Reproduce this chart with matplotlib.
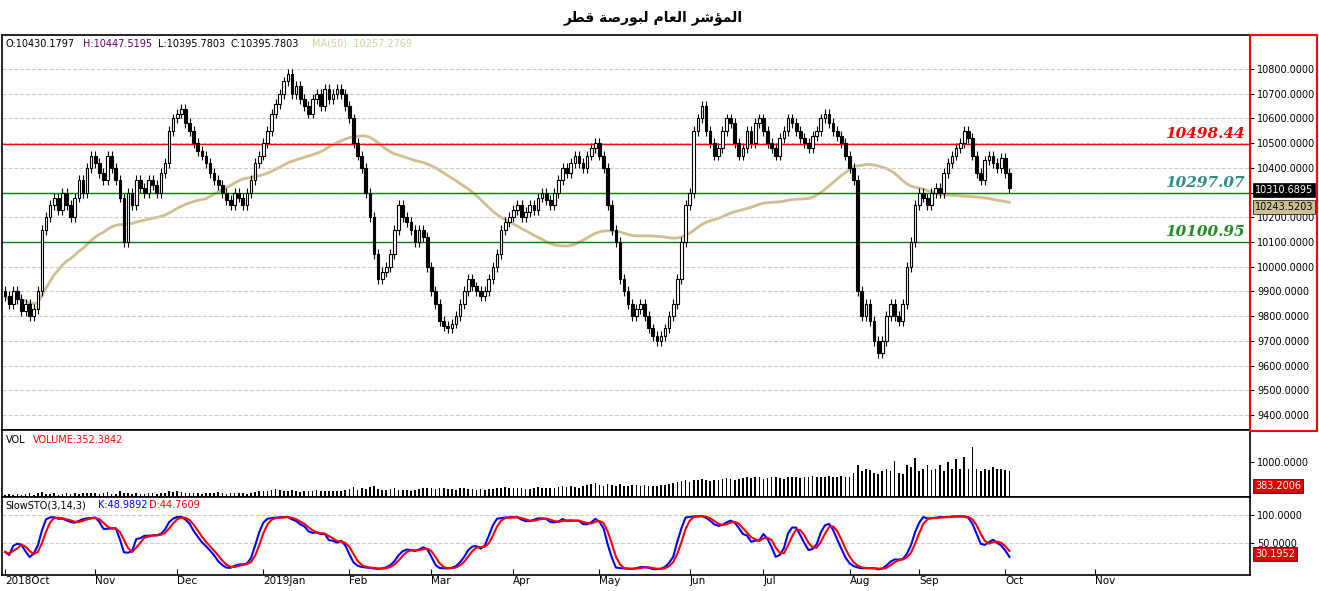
import numpy as np
import pandas as pd
import matplotlib
matplotlib.use("Agg")
import matplotlib.pyplot as plt
from matplotlib.patches import Rectangle

closes = [
 9880,9850,9900,9870,9820,9850,9800,9830,9900,10150,10200,10250,10280,10230,10300,10250,10200,10280,10350,10300,10400,10450,
 10420,10380,10350,10450,10400,10350,10280,10100,10300,10250,10350,10320,10300,10350,10330,10300,10380,10420,10550,10600,
 10620,10640,10580,10550,10500,10470,10450,10420,10380,10350,10330,10300,10270,10250,10300,10280,10250,10300,10350,10420,10450,
 10500,10550,10620,10660,10700,10750,10780,10700,10730,10680,10650,10620,10680,10700,10650,10720,10680,10700,10720,10700,10650,
 10600,10500,10450,10400,10300,10200,10050,9950,9980,10000,10050,10150,10250,10200,10180,10150,10100,10150,10120,10000,
 9900,9850,9780,9760,9750,9770,9800,9850,9900,9950,9920,9900,9880,9900,9950,10000,10050,10150,10180,10200,
 10230,10250,10200,10220,10250,10230,10280,10300,10270,10250,10300,10350,10400,10380,10420,10450,10420,10400,10450,10480,10500,
 10450,10400,10250,10150,10100,9950,9900,9850,9800,9830,9850,9800,9750,9720,9700,9720,9750,9800,9850,9950,10100,10250,
 10300,10550,10600,10650,10550,10500,10450,10480,10550,10600,10580,10500,10450,10480,10550,10500,10580,10600,
 10550,10500,10480,10450,10520,10550,10600,10580,10550,10520,10500,10480,10530,10550,10600,10620,10580,10550,10530,10500,10450,
 10400,10350,9900,9800,9850,9780,9700,9650,9700,9800,9850,9800,9780,9850,10000,10100,10250,
 10300,10280,10250,10300,10320,10300,10380,10420,10450,10480,10500,10550,10520,10450,10380,10350,10430,10450,10420,10400,10440,
 10380,10320]
volumes = [
 160,170,150,180,160,170,190,160,200,230,180,170,190,160,180,200,170,190,180,200,190,210,
 190,180,200,230,180,170,260,190,200,180,190,170,180,190,200,180,190,210,250,220,
 240,220,200,210,190,200,180,210,190,200,220,190,180,200,210,190,200,180,210,230,240,
 260,250,280,300,270,260,250,280,240,230,260,250,240,270,250,260,240,250,260,240,280,
 300,350,280,320,300,350,380,300,280,270,300,320,290,280,270,260,280,300,320,330,
 330,300,340,320,310,300,290,320,330,300,310,280,300,290,310,300,320,330,350,340,
 330,320,340,300,310,320,350,330,340,320,330,360,380,350,370,360,340,380,400,420,450,
 400,380,420,400,380,420,390,380,400,410,380,400,380,370,390,400,410,430,450,470,500,520,
 480,520,540,560,520,500,520,540,560,580,560,540,560,580,600,580,620,600,
 560,580,600,620,580,560,600,620,600,580,600,620,640,620,600,620,640,600,620,640,600,
 620,700,900,760,820,780,700,680,750,820,760,1020,700,680,900,860,1080,
 760,800,900,780,820,900,760,1000,800,1060,800,1120,820,1360,800,750,800,780,850,820,800,
 780,760]
month_labels = ["2018Oct","Nov","Dec","2019Jan","Feb","Mar","Apr","May","Jun","Jul","Aug","Sep","Oct","Nov"]
month_starts = [0,22,42,63,84,104,124,145,167,185,206,223,244,266]
hlines = [10498.44, 10297.07, 10100.95]
hline_colors = ["#ff0000", "#008000", "#008000"]
hlabel_colors = ["#ff0000", "#2e8b8b", "#228b22"]

c = np.array(closes, float)
o = np.concatenate([[9900], c[:-1]])
hi = np.maximum(o, c) + 20
lo = np.minimum(o, c) - 20
n = len(c)
x = np.arange(n)
ma = pd.Series(c).rolling(50, min_periods=1).mean().values
ll = pd.Series(lo).rolling(14, min_periods=1).min()
hh = pd.Series(hi).rolling(14, min_periods=1).max()
fastk = 100*(pd.Series(c)-ll)/(hh-ll)
K = fastk.rolling(3, min_periods=1).mean()
D = K.rolling(3, min_periods=1).mean()

W, H = 1319, 591
FS = 7
fig = plt.figure(figsize=(W/100, H/100), dpi=100)
def ax_at(top, bot):
    return fig.add_axes([2/W, (H-bot)/H, 1248/W, (bot-top)/H])
ax = ax_at(35, 430); axv = ax_at(430, 497); axs = ax_at(497, 575)
xl = (-0.75, 303.7)
for a in (ax, axv, axs):
    a.set_xlim(*xl)
    a.yaxis.tick_right()
    a.tick_params(axis='y', labelsize=FS, length=3, pad=2)
    a.tick_params(axis='x', length=0)
    a.set_xticks([])
    for s in a.spines.values():
        s.set_linewidth(1.2)
ax.set_ylim(9339, 10938)
yt = np.arange(9400, 10801, 100)
ax.set_yticks(yt); ax.set_yticklabels([f"{v:.4f}" for v in yt])
ax.grid(axis='y', color='#cccccc', ls='--', lw=0.8)
up = c >= o
ax.vlines(x, lo, hi, color='black', lw=0.8, zorder=2)
ax.bar(x[up], (c-o)[up], bottom=o[up], width=0.65, color='white', edgecolor='black', lw=0.8, zorder=3)
ax.bar(x[~up], (c-o)[~up], bottom=o[~up], width=0.65, color='black', edgecolor='black', lw=0.8, zorder=3)
ax.plot(x, ma, color='#cdbf8f', lw=2, zorder=1)
for v, col, lc in zip(hlines, hline_colors, hlabel_colors):
    ax.axhline(v, color=col, lw=1)
    ax.text(302.5, v+12, f"{v:.2f}", color=lc, ha='right', va='bottom', fontsize=11,
            fontweight='bold', style='italic', family='DejaVu Serif')
hdr = [(0.003, "O:10430.1797", 'black'), (0.065, "H:10447.5195", '#660066'),
       (0.125, "L:10395.7803", 'black'), (0.183, "C:10395.7803", 'black'),
       (0.248, "MA(50)  10257.2769", '#d8cca0')]
for xf, s, col in hdr:
    ax.text(xf, 0.99, s, color=col, transform=ax.transAxes, fontsize=FS, va='top')
def tag(a, y, s, fc, tc='white'):
    a.text(1.004, y, s, transform=a.get_yaxis_transform(), fontsize=FS, color=tc, va='center', ha='left',
           bbox=dict(boxstyle='square,pad=0.2', fc=fc, ec='black', lw=0.5))
tag(ax, 10310.6895, "10310.6895", 'black')
tag(ax, 10243.5203, "10243.5203", '#cdbf8f', 'black')

axv.set_ylim(100, 1800)
axv.set_yticks([1000]); axv.set_yticklabels(["1000.0000"])
axv.bar(x, volumes, width=0.4, color='black', bottom=0)
axv.text(0.003, 0.93, "VOL", transform=axv.transAxes, fontsize=FS, va='top')
axv.text(0.025, 0.93, "VOLUME:352.3842", color='red', transform=axv.transAxes, fontsize=FS, va='top')
tag(axv, 383.2006, "383.2006", '#e00000')

axs.set_ylim(-8, 132)
axs.set_yticks([50, 100]); axs.set_yticklabels(["50.0000", "100.0000"])
axs.grid(axis='y', color='#cccccc', ls='--', lw=0.8)
axs.plot(x, K, color='#0000ff', lw=1.5)
axs.plot(x, D, color='#ff0000', lw=1.5)
axs.text(0.003, 0.96, "SlowSTO(3,14,3)", transform=axs.transAxes, fontsize=FS, va='top')
axs.text(0.077, 0.96, "K:48.9892", color='#0000ff', transform=axs.transAxes, fontsize=FS, va='top')
axs.text(0.118, 0.96, "D:44.7609", color='red', transform=axs.transAxes, fontsize=FS, va='top')
tag(axs, 30.1952, "30.1952", '#e00000')
axs.set_xticks(month_starts)
axs.set_xticklabels(month_labels, fontsize=FS+0.5, ha='left')
axs.tick_params(axis='x', length=4, pad=1, direction='in')

title = ("\uFEAE\uFEC4\uFED7 \uFE94\uFEBB\uFEAD\uFEEE\uFE92\uFEDF "
         "\uFEE1\uFE8E\uFECC\uFEDF\uFE8D \uFEAE\uFEB7\uFE86\uFEE4\uFEDF\uFE8D")
fig.text(0.495, 0.97, title, ha='center', va='center', fontsize=10, fontweight='bold', family='DejaVu Sans')
fig.patches.append(Rectangle((1250/W, 160/H), 67/W, 396/H, transform=fig.transFigure,
                             fill=False, ec='red', lw=1.5))
fig.savefig("out.png", dpi=100)
